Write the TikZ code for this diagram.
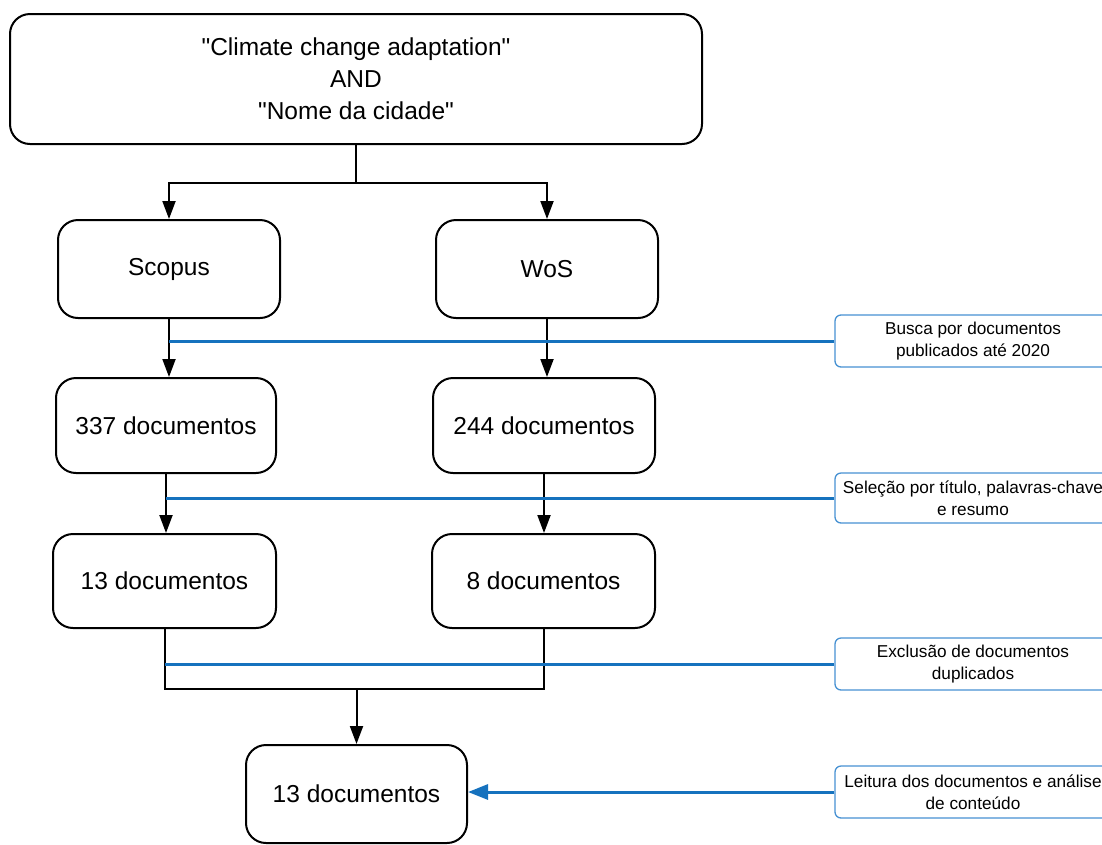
\documentclass[tikz,border=0pt]{standalone}
\usepackage{fontspec}
\setmainfont{Liberation Sans}
\usetikzlibrary{arrows.meta}
\definecolor{noteblue}{RGB}{22,114,190}
\definecolor{noteframe}{RGB}{70,145,210}

\begin{document}
\begin{tikzpicture}[x=1pt, y=-1pt, line width=2pt,
  every node/.style={font=\fontsize{24.5}{32}\selectfont, align=center},
  stepbox/.style={draw, rounded corners=20pt, inner sep=0pt},
  notebox/.style={draw=noteframe, line width=1.3pt, rounded corners=6pt,
    minimum width=276pt, minimum height=52pt, inner sep=0pt,
    font=\fontsize{17.2}{22}\selectfont},
  arr/.style={-{Triangle[length=18pt,width=13pt]}},
  noteline/.style={draw=noteblue, line width=3pt},
  notearrow/.style={noteline, -{Triangle[length=20pt,width=15pt]}}]
\clip (0,0) rectangle (1102,844);
% search string
\node[stepbox,minimum width=692pt,minimum height=130pt] (query) at (356,79)
  {\textquotedbl Climate change adaptation\textquotedbl\\AND\\\textquotedbl Nome da cidade\textquotedbl};
% databases
\node[stepbox,minimum width=222pt,minimum height=98pt] (scopus) at (169,269) {Scopus};
\node[stepbox,minimum width=222pt,minimum height=98pt] (wos) at (547,269) {WoS};
\coordinate (split) at (356,183);
\draw (query.south) -- (split);
\draw[arr] (split) -| (scopus.north);
\draw[arr] (split) -| (wos.north);
% search results
\node[stepbox,minimum width=220pt,minimum height=95pt] (d337) at (166,425.5) {337 documentos};
\node[stepbox,minimum width=222pt,minimum height=95pt] (d244) at (544,425.5) {244 documentos};
\draw[arr] (scopus.south) -- (scopus.south |- d337.north);
\draw[arr] (wos.south) -- (wos.south |- d244.north);
% screening
\node[stepbox,minimum width=223pt,minimum height=94pt] (d13s) at (164.5,581) {13 documentos};
\node[stepbox,minimum width=223pt,minimum height=94pt] (d8) at (543.5,581) {8 documentos};
\draw[arr] (d337.south) -- (d337.south |- d13s.north);
\draw[arr] (d244.south) -- (d244.south |- d8.north);
% merge
\node[stepbox,minimum width=221pt,minimum height=98pt] (final) at (356.5,794) {13 documentos};
\coordinate (merge) at (356.5,689);
\draw (d13s.south) |- (merge) -| (d8.south);
\draw[arr] (merge) -- (final.north);
% notes
\node[notebox] (nb1) at (973,341) {Busca por documentos\\publicados até 2020};
\node[notebox,minimum height=50pt] (nb2) at (973,498) {Seleção por título, palavras-chave\\e resumo};
\node[notebox] (nb3) at (973,664) {Exclusão de documentos\\duplicados};
\node[notebox] (nb4) at (973,792) {Leitura dos documentos e análise\\de conteúdo};
\draw[noteline] (nb1.west) -- (nb1.west -| scopus.south);
\draw[noteline] (nb2.west) -- (nb2.west -| d337.south);
\draw[noteline] (nb3.west) -- (nb3.west -| d13s.south);
\draw[notearrow] (nb4.west) -- (nb4.west -| final.east);
\end{tikzpicture}
\end{document}
